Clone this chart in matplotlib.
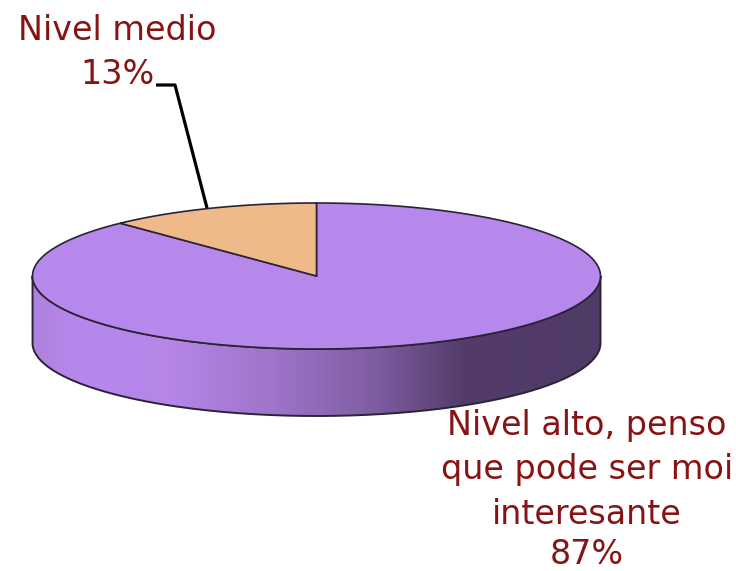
import numpy as np
import matplotlib
matplotlib.use('Agg')
import matplotlib.pyplot as plt
from matplotlib.colors import LinearSegmentedColormap
from matplotlib.patches import PathPatch
from matplotlib.path import Path

categories = ['Nivel alto, penso\nque pode ser moi\ninteresante', 'Nivel medio']
values = [87, 13]
colors = ['#b788ec', '#eeba8a']

# pie geometry, in image pixels
cx, cy = 316.5, 276
rx, ry = 284, 73
depth = 67
skew = 3.1  # the tilted view squeezes the angles a little
edge = '#2c2236'
text_color = '#861414'
label_size = 24
plt.rcParams['font.family'] = ['DejaVu Sans']


def ellipse(a0, a1, n=200):
    # angles clockwise from 12 o'clock, as in the spreadsheet pie
    a = np.linspace(a0, a1, n)
    a = np.radians(a - skew * np.sin(np.radians(2 * a)))
    return cx + rx * np.sin(a), cy - ry * np.cos(a)


fig = plt.figure(figsize=(7.36, 5.71), dpi=100)
ax = fig.add_axes([0, 0, 1, 1])
ax.set_xlim(0, 736)
ax.set_ylim(571, 0)
ax.axis('off')

# side wall with the shading
xf, yf = ellipse(90, 270)
wall = np.vstack([np.column_stack([xf, yf]),
                  np.column_stack([xf[::-1], yf[::-1] + depth])])
wall_patch = PathPatch(Path(np.vstack([wall, wall[0]])), fc='none', ec=edge, lw=1.4, zorder=3)
ax.add_patch(wall_patch)
cmap = LinearSegmentedColormap.from_list('wall', [
    (0.0, '#ae82de'), (0.07, '#b788ec'), (0.24, '#b586e8'), (0.42, '#9f74ca'),
    (0.6, '#7f5da2'), (0.76, '#533c6a'), (1.0, '#503a66')])
img = ax.imshow(np.linspace(0, 1, 300).reshape(1, -1), cmap=cmap, aspect='auto',
                extent=[cx - rx, cx + rx, cy + ry + depth, cy], zorder=2)
img.set_clip_path(wall_patch)
ax.set_xlim(0, 736)
ax.set_ylim(571, 0)

# top face, slices going round from 12 o'clock
bounds = np.cumsum([0] + values) / sum(values) * 360
for i in range(len(values)):
    xs, ys = ellipse(bounds[i], bounds[i + 1])
    ax.fill(np.r_[cx, xs], np.r_[cy, ys], fc=colors[i], ec=edge, lw=1.2, zorder=4)

# leader line for the small slice
ax.plot([156, 175, 207], [85, 85, 208], color='black', lw=2.3, zorder=5,
        solid_joinstyle='round', solid_capstyle='butt')

ax.text(117, 31, categories[1], color=text_color, fontsize=label_size, ha='center', va='center', zorder=6)
ax.text(117, 74, f'{values[1]}%', color=text_color, fontsize=label_size, ha='center', va='center', zorder=6)
for line, y in zip(categories[0].split('\n'), [426, 470, 514]):
    ax.text(587, y, line, color=text_color, fontsize=label_size, ha='center', va='center', zorder=6)
ax.text(587, 555, f'{values[0]}%', color=text_color, fontsize=label_size, ha='center', va='center', zorder=6)

fig.savefig('out.png', dpi=100)
